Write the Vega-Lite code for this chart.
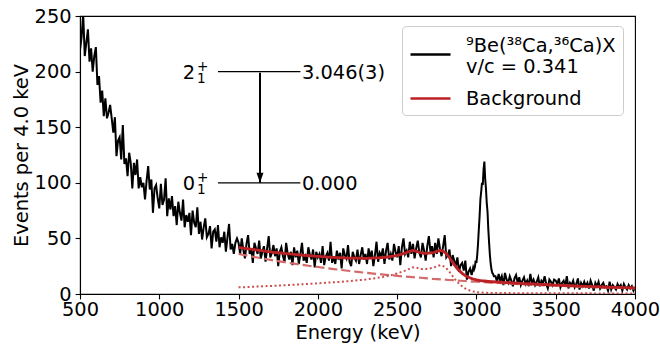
{
"$schema": "https://vega.github.io/schema/vega-lite/v6.json",
"width": 555, "height": 278,
"autosize": {"type": "none"},
"padding": {"left": 80, "top": 16, "right": 25, "bottom": 52},
"background": "white",
"config": {
  "font": "DejaVu Sans",
  "view": {"stroke": "black", "strokeWidth": 1.1},
  "axis": {"labelFont": "DejaVu Sans", "labelFontSize": 19.4, "labelColor": "black", "titleFont": "DejaVu Sans", "titleFontSize": 19.4, "titleFontWeight": "normal", "titleColor": "black", "domainColor": "black", "domainWidth": 1.1, "tickColor": "black", "tickWidth": 1.1, "tickSize": 4.9, "grid": false, "labelFlush": false, "labelOverlap": false},
  "legend": {"labelFont": "DejaVu Sans", "labelFontSize": 19.4, "labelColor": "black"}
},
"datasets": {
"spec": [
{"E":500,"c":219},{"E":510,"c":231},{"E":520,"c":252},{"E":530,"c":214},{"E":540,"c":226},{"E":550,"c":238},{"E":560,"c":209},{"E":570,"c":221},{"E":580,"c":200},{"E":590,"c":214},
{"E":600,"c":222},{"E":610,"c":188},{"E":620,"c":196},{"E":630,"c":172},{"E":640,"c":183},{"E":650,"c":160},{"E":660,"c":176},{"E":670,"c":158},{"E":680,"c":163},{"E":690,"c":170},
{"E":700,"c":158},{"E":710,"c":145},{"E":720,"c":159},{"E":730,"c":124},{"E":740,"c":138},{"E":750,"c":141},{"E":760,"c":121},{"E":770,"c":152},{"E":780,"c":117},{"E":790,"c":122},
{"E":800,"c":106},{"E":810,"c":127},{"E":820,"c":118},{"E":830,"c":95},{"E":840,"c":118},{"E":850,"c":107},{"E":860,"c":121},{"E":870,"c":95},{"E":880,"c":105},{"E":890,"c":96},
{"E":900,"c":100},{"E":910,"c":85},{"E":920,"c":102},{"E":930,"c":115},{"E":940,"c":94},{"E":950,"c":103},{"E":960,"c":73},{"E":970,"c":95},{"E":980,"c":98},{"E":990,"c":86},
{"E":1000,"c":77},{"E":1010,"c":99},{"E":1020,"c":80},{"E":1030,"c":85},{"E":1040,"c":104},{"E":1050,"c":70},{"E":1060,"c":86},{"E":1070,"c":76},{"E":1080,"c":88},{"E":1090,"c":70},
{"E":1100,"c":79},{"E":1110,"c":62},{"E":1120,"c":83},{"E":1130,"c":73},{"E":1140,"c":66},{"E":1150,"c":85},{"E":1160,"c":60},{"E":1170,"c":71},{"E":1180,"c":65},{"E":1190,"c":73},
{"E":1200,"c":53},{"E":1210,"c":75},{"E":1220,"c":64},{"E":1230,"c":60},{"E":1240,"c":78},{"E":1250,"c":54},{"E":1260,"c":65},{"E":1270,"c":49},{"E":1280,"c":60},{"E":1290,"c":68},
{"E":1300,"c":51},{"E":1310,"c":54},{"E":1320,"c":61},{"E":1330,"c":41},{"E":1340,"c":56},{"E":1350,"c":58},{"E":1360,"c":47},{"E":1370,"c":62},{"E":1380,"c":42},{"E":1390,"c":51},
{"E":1400,"c":46},{"E":1410,"c":56},{"E":1420,"c":38},{"E":1430,"c":51},{"E":1440,"c":63},{"E":1450,"c":40},{"E":1460,"c":45},{"E":1470,"c":36},{"E":1480,"c":46},{"E":1490,"c":50},
{"E":1500,"c":46},{"E":1510,"c":36},{"E":1520,"c":50},{"E":1530,"c":40},{"E":1540,"c":32},{"E":1550,"c":45},{"E":1560,"c":53},{"E":1570,"c":36},{"E":1580,"c":41},{"E":1590,"c":28},
{"E":1600,"c":46},{"E":1610,"c":41},{"E":1620,"c":36},{"E":1630,"c":48},{"E":1640,"c":32},{"E":1650,"c":38},{"E":1660,"c":43},{"E":1670,"c":29},{"E":1680,"c":41},{"E":1690,"c":52},
{"E":1700,"c":33},{"E":1710,"c":37},{"E":1720,"c":44},{"E":1730,"c":34},{"E":1740,"c":41},{"E":1750,"c":25},{"E":1760,"c":38},{"E":1770,"c":42},{"E":1780,"c":34},{"E":1790,"c":29},
{"E":1800,"c":46},{"E":1810,"c":36},{"E":1820,"c":31},{"E":1830,"c":38},{"E":1840,"c":26},{"E":1850,"c":42},{"E":1860,"c":33},{"E":1870,"c":39},{"E":1880,"c":27},{"E":1890,"c":36},
{"E":1900,"c":46},{"E":1910,"c":30},{"E":1920,"c":34},{"E":1930,"c":28},{"E":1940,"c":42},{"E":1950,"c":35},{"E":1960,"c":31},{"E":1970,"c":40},{"E":1980,"c":24},{"E":1990,"c":38},
{"E":2000,"c":33},{"E":2010,"c":36},{"E":2020,"c":28},{"E":2030,"c":43},{"E":2040,"c":26},{"E":2050,"c":34},{"E":2060,"c":37},{"E":2070,"c":30},{"E":2080,"c":47},{"E":2090,"c":28},
{"E":2100,"c":34},{"E":2110,"c":27},{"E":2120,"c":39},{"E":2130,"c":31},{"E":2140,"c":37},{"E":2150,"c":23},{"E":2160,"c":41},{"E":2170,"c":35},{"E":2180,"c":32},{"E":2190,"c":44},
{"E":2200,"c":29},{"E":2210,"c":25},{"E":2220,"c":38},{"E":2230,"c":33},{"E":2240,"c":30},{"E":2250,"c":40},{"E":2260,"c":27},{"E":2270,"c":35},{"E":2280,"c":42},{"E":2290,"c":31},
{"E":2300,"c":36},{"E":2310,"c":27},{"E":2320,"c":41},{"E":2330,"c":32},{"E":2340,"c":39},{"E":2350,"c":25},{"E":2360,"c":35},{"E":2370,"c":47},{"E":2380,"c":29},{"E":2390,"c":37},
{"E":2400,"c":34},{"E":2410,"c":41},{"E":2420,"c":27},{"E":2430,"c":39},{"E":2440,"c":46},{"E":2450,"c":31},{"E":2460,"c":36},{"E":2470,"c":30},{"E":2480,"c":45},{"E":2490,"c":38},
{"E":2500,"c":33},{"E":2510,"c":43},{"E":2520,"c":26},{"E":2530,"c":42},{"E":2540,"c":50},{"E":2550,"c":36},{"E":2560,"c":39},{"E":2570,"c":33},{"E":2580,"c":47},{"E":2590,"c":36},
{"E":2600,"c":45},{"E":2610,"c":32},{"E":2620,"c":41},{"E":2630,"c":48},{"E":2640,"c":37},{"E":2650,"c":33},{"E":2660,"c":46},{"E":2670,"c":39},{"E":2680,"c":30},{"E":2690,"c":43},
{"E":2700,"c":52},{"E":2710,"c":38},{"E":2720,"c":43},{"E":2730,"c":33},{"E":2740,"c":46},{"E":2750,"c":36},{"E":2760,"c":50},{"E":2770,"c":41},{"E":2780,"c":34},{"E":2790,"c":43},
{"E":2800,"c":53},{"E":2810,"c":33},{"E":2820,"c":35},{"E":2830,"c":40},{"E":2840,"c":25},{"E":2850,"c":35},{"E":2860,"c":30},{"E":2870,"c":25},{"E":2880,"c":33},{"E":2890,"c":20},
{"E":2900,"c":26},{"E":2910,"c":28},{"E":2920,"c":21},{"E":2930,"c":30},{"E":2940,"c":13},{"E":2950,"c":20},{"E":2960,"c":23},{"E":2970,"c":17},{"E":2980,"c":24},{"E":2985,"c":22},
{"E":2990,"c":24},{"E":2995,"c":30},{"E":3000,"c":28},{"E":3005,"c":35},{"E":3010,"c":45},{"E":3015,"c":58},{"E":3020,"c":70},{"E":3025,"c":85},{"E":3030,"c":92},{"E":3035,"c":100},
{"E":3040,"c":98},{"E":3045,"c":112},{"E":3050,"c":119},{"E":3055,"c":104},{"E":3060,"c":95},{"E":3065,"c":82},{"E":3070,"c":74},{"E":3075,"c":58},{"E":3080,"c":46},{"E":3085,"c":35},
{"E":3090,"c":27},{"E":3095,"c":22},{"E":3100,"c":19},{"E":3105,"c":18},{"E":3110,"c":16},
{"E":3120,"c":16},{"E":3130,"c":11},{"E":3140,"c":18},{"E":3150,"c":12},{"E":3160,"c":16},{"E":3170,"c":8},{"E":3180,"c":19},{"E":3190,"c":13},
{"E":3200,"c":10},{"E":3210,"c":16},{"E":3220,"c":12},{"E":3230,"c":7},{"E":3240,"c":14},{"E":3250,"c":17},{"E":3260,"c":10},{"E":3270,"c":15},{"E":3280,"c":8},{"E":3290,"c":12},
{"E":3300,"c":15},{"E":3310,"c":9},{"E":3320,"c":12},{"E":3330,"c":7},{"E":3340,"c":18},{"E":3350,"c":10},{"E":3360,"c":13},{"E":3370,"c":8},{"E":3380,"c":11},{"E":3390,"c":15},
{"E":3400,"c":7},{"E":3410,"c":12},{"E":3420,"c":10},{"E":3430,"c":16},{"E":3440,"c":9},{"E":3450,"c":5},{"E":3460,"c":13},{"E":3470,"c":11},{"E":3480,"c":8},{"E":3490,"c":13},
{"E":3500,"c":12},{"E":3510,"c":9},{"E":3520,"c":14},{"E":3530,"c":6},{"E":3540,"c":10},{"E":3550,"c":12},{"E":3560,"c":7},{"E":3570,"c":16},{"E":3580,"c":5},{"E":3590,"c":10},
{"E":3600,"c":8},{"E":3610,"c":12},{"E":3620,"c":6},{"E":3630,"c":9},{"E":3640,"c":14},{"E":3650,"c":4},{"E":3660,"c":10},{"E":3670,"c":7},{"E":3680,"c":11},{"E":3690,"c":7},
{"E":3700,"c":10},{"E":3710,"c":5},{"E":3720,"c":12},{"E":3730,"c":8},{"E":3740,"c":3},{"E":3750,"c":10},{"E":3760,"c":7},{"E":3770,"c":11},{"E":3780,"c":5},{"E":3790,"c":8},
{"E":3800,"c":10},{"E":3810,"c":6},{"E":3820,"c":7},{"E":3830,"c":3},{"E":3840,"c":11},{"E":3850,"c":4},{"E":3860,"c":8},{"E":3870,"c":6},{"E":3880,"c":4},{"E":3890,"c":9},
{"E":3900,"c":6},{"E":3910,"c":8},{"E":3920,"c":3},{"E":3930,"c":9},{"E":3940,"c":6},{"E":3950,"c":4},{"E":3960,"c":8},{"E":3970,"c":5},{"E":3980,"c":7},{"E":3990,"c":3},{"E":4000,"c":6}
],
"bg": [
{"E":1500,"tot":42.0,"exp":36.0,"cmp":6.0},{"E":1550,"tot":40.8,"exp":34.6,"cmp":6.2},{"E":1600,"tot":39.9,"exp":33.3,"cmp":6.6},{"E":1650,"tot":38.9,"exp":32.0,"cmp":6.9},
{"E":1700,"tot":37.9,"exp":30.7,"cmp":7.2},{"E":1750,"tot":37.1,"exp":29.5,"cmp":7.6},{"E":1800,"tot":36.4,"exp":28.4,"cmp":8.0},{"E":1850,"tot":35.6,"exp":27.3,"cmp":8.3},
{"E":1900,"tot":35.0,"exp":26.2,"cmp":8.8},{"E":1950,"tot":34.4,"exp":25.2,"cmp":9.2},{"E":2000,"tot":33.9,"exp":24.3,"cmp":9.6},{"E":2050,"tot":33.4,"exp":23.3,"cmp":10.1},
{"E":2100,"tot":32.9,"exp":22.4,"cmp":10.5},{"E":2150,"tot":32.6,"exp":21.6,"cmp":11.0},{"E":2200,"tot":32.3,"exp":20.7,"cmp":11.6},{"E":2250,"tot":32.2,"exp":19.9,"cmp":12.3},
{"E":2300,"tot":32.1,"exp":19.1,"cmp":13.0},{"E":2350,"tot":32.4,"exp":18.4,"cmp":14.0},{"E":2400,"tot":32.7,"exp":17.7,"cmp":15.0},{"E":2450,"tot":33.5,"exp":17.0,"cmp":16.5},
{"E":2500,"tot":34.8,"exp":16.3,"cmp":18.5},{"E":2550,"tot":36.7,"exp":15.7,"cmp":21.0},{"E":2600,"tot":39.1,"exp":15.1,"cmp":24.0},{"E":2625,"tot":38.3,"exp":14.8,"cmp":23.5},
{"E":2650,"tot":37.1,"exp":14.6,"cmp":22.5},{"E":2675,"tot":36.6,"exp":14.3,"cmp":22.3},{"E":2700,"tot":36.7,"exp":13.9,"cmp":22.8},{"E":2725,"tot":37.1,"exp":13.6,"cmp":23.5},
{"E":2750,"tot":38.4,"exp":13.4,"cmp":25.0},{"E":2775,"tot":39.1,"exp":13.1,"cmp":26.0},{"E":2800,"tot":37.4,"exp":12.9,"cmp":24.5},{"E":2825,"tot":33.6,"exp":12.6,"cmp":21.0},
{"E":2850,"tot":28.4,"exp":12.4,"cmp":16.0},{"E":2875,"tot":23.6,"exp":12.1,"cmp":11.5},{"E":2900,"tot":19.9,"exp":11.9,"cmp":8.0},{"E":2925,"tot":16.9,"exp":11.7,"cmp":5.2},
{"E":2950,"tot":15.0,"exp":11.4,"cmp":3.6},{"E":2975,"tot":13.6,"exp":11.2,"cmp":2.4},{"E":3000,"tot":12.6,"exp":11.0,"cmp":1.6},{"E":3050,"tot":11.7,"exp":10.6,"cmp":1.1},
{"E":3100,"tot":11.0,"exp":10.1,"cmp":0.9},{"E":3200,"tot":10.2,"exp":9.4,"cmp":0.8},{"E":3300,"tot":9.4,"exp":8.7,"cmp":0.7},{"E":3400,"tot":8.7,"exp":8.0,"cmp":0.7},
{"E":3500,"tot":8.0,"exp":7.4,"cmp":0.6},{"E":3600,"tot":7.4,"exp":6.8,"cmp":0.6},{"E":3700,"tot":6.9,"exp":6.3,"cmp":0.6},{"E":3800,"tot":6.3,"exp":5.8,"cmp":0.5},
{"E":3900,"tot":5.9,"exp":5.4,"cmp":0.5},{"E":4000,"tot":5.5,"exp":5.0,"cmp":0.5}
],
"lv": [
{"E1":1370,"E2":1890,"y":200,"J":"2","sub":"1","sup":"+","en":"3.046(3)"},
{"E1":1370,"E2":1890,"y":100,"J":"0","sub":"1","sup":"+","en":"0.000"}
],
"arrow": [{"E":1635,"from":199,"to":100}]
},
"layer": [
{"data": {"name": "spec"},
 "mark": {"type": "line", "strokeWidth": 2, "clip": true},
 "encoding": {
  "x": {"field": "E", "type": "quantitative", "scale": {"domain": [500, 4000], "nice": false, "zero": false},
        "axis": {"title": "Energy (keV)", "values": [500,1000,1500,2000,2500,3000,3500,4000], "format": "d", "labelPadding": 2, "titlePadding": 4}},
  "y": {"field": "c", "type": "quantitative", "scale": {"domain": [0, 250], "nice": false},
        "axis": {"title": "Events per 4.0 keV", "values": [0,50,100,150,200,250], "format": "d", "labelPadding": 4, "titlePadding": 3}},
  "color": {"datum": "data", "type": "nominal",
            "scale": {"domain": ["data", "bg"], "range": ["black", "#bb2124"]},
            "legend": {"title": null, "orient": "none", "legendX": 322, "legendY": 10,
                       "fillColor": "white", "strokeColor": "#cccccc", "cornerRadius": 4, "padding": 7,
                       "symbolType": "stroke", "symbolSize": 1600, "symbolStrokeWidth": 2.5, "labelOffset": 14, "rowPadding": -14, "labelLimit": 400,
                       "labelExpr": "datum.value == 'data' ? ['⁹Be(³⁸Ca,³⁶Ca)X', 'v/c = 0.341'] : 'Background'",
                       "encode": {"labels": {"update": {"dy": {"signal": "datum.value == 'data' ? -9 : 0"}}}}}}
 }},
{"data": {"name": "bg"},
 "mark": {"type": "line", "color": "#d46a6a", "strokeWidth": 2.2, "strokeDash": [9, 4], "clip": true},
 "encoding": {"x": {"field": "E", "type": "quantitative"}, "y": {"field": "exp", "type": "quantitative"}}},
{"data": {"name": "bg"},
 "mark": {"type": "line", "color": "#cc5050", "strokeWidth": 2, "strokeDash": [2, 2.5], "clip": true},
 "encoding": {"x": {"field": "E", "type": "quantitative"}, "y": {"field": "cmp", "type": "quantitative"}}},
{"data": {"name": "bg"},
 "mark": {"type": "line", "strokeWidth": 2.8, "interpolate": "monotone", "clip": true},
 "encoding": {"x": {"field": "E", "type": "quantitative"}, "y": {"field": "tot", "type": "quantitative"},
              "color": {"datum": "bg", "type": "nominal"}}},
{"data": {"name": "lv"},
 "mark": {"type": "rule", "color": "black", "strokeWidth": 1.2},
 "encoding": {"x": {"field": "E1", "type": "quantitative"}, "x2": {"field": "E2"}, "y": {"field": "y", "type": "quantitative"}}},
{"data": {"name": "arrow"},
 "mark": {"type": "rule", "color": "black", "strokeWidth": 2},
 "encoding": {"x": {"field": "E", "type": "quantitative"}, "y": {"field": "from", "type": "quantitative"}, "y2": {"field": "to"}}},
{"data": {"name": "arrow"},
 "mark": {"type": "point", "shape": "M-0.35,-1L0.35,-1L0,0Z", "size": 400, "filled": true, "color": "black", "opacity": 1},
 "encoding": {"x": {"field": "E", "type": "quantitative"}, "y": {"field": "to", "type": "quantitative"}}},
{"data": {"name": "lv"},
 "mark": {"type": "text", "align": "right", "baseline": "middle", "fontSize": 19.4, "dx": -1, "dy": 1, "color": "black"},
 "encoding": {"x": {"datum": 1232}, "y": {"field": "y", "type": "quantitative"}, "text": {"field": "J"}}},
{"data": {"name": "lv"},
 "mark": {"type": "text", "align": "left", "baseline": "middle", "fontSize": 13.6, "dx": 1, "dy": -5, "color": "black"},
 "encoding": {"x": {"datum": 1232}, "y": {"field": "y", "type": "quantitative"}, "text": {"field": "sup"}}},
{"data": {"name": "lv"},
 "mark": {"type": "text", "align": "left", "baseline": "middle", "fontSize": 13.6, "dx": 1, "dy": 7, "color": "black"},
 "encoding": {"x": {"datum": 1232}, "y": {"field": "y", "type": "quantitative"}, "text": {"field": "sub"}}},
{"data": {"name": "lv"},
 "mark": {"type": "text", "align": "left", "baseline": "middle", "fontSize": 19.4, "dy": 1, "color": "black"},
 "encoding": {"x": {"datum": 1900}, "y": {"field": "y", "type": "quantitative"}, "text": {"field": "en"}}}
]
}
